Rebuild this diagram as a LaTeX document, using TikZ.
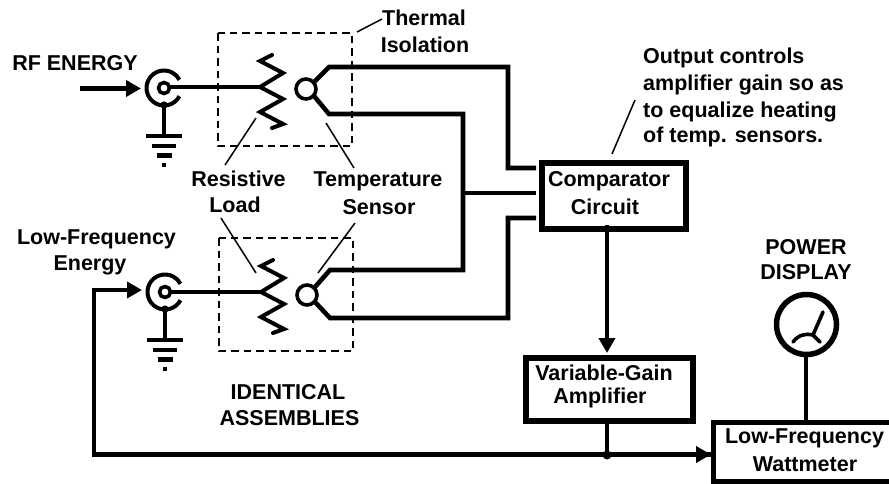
\documentclass[tikz,border=0pt]{standalone}
\usepackage{fontspec}
\setmainfont{Liberation Sans}
\usetikzlibrary{arrows.meta,calc}
\tikzset{
 wire/.style={line width=4.6pt,line join=miter},
 arrowwire/.style={wire,-{Triangle[length=15pt,width=16pt]}},
 res/.style={line width=4pt,line join=miter,line cap=round},
 thin leader/.style={line width=1.5pt},
 dashbox/.style={line width=2pt,dash pattern=on 7.5pt off 5pt},
 blockbox/.style={draw,line width=6pt,fill=white},
 lbl/.style={font=\bfseries\fontsize{21.5}{26}\selectfont,align=center,inner sep=0pt},
}
\newcommand{\coax}[2]{%
 \begin{scope}[shift={(#1,#2)}]
  \draw[line width=4pt] (28:17.5) arc[start angle=28,end angle=332,radius=17.5];
  \fill (0,17) circle[radius=3.6];
 \end{scope}}
\newcommand{\gnd}[2]{%
 \begin{scope}[shift={(#1,#2)}]
  \draw[wire] (0,17) -- (0,48);
  \draw[wire] (-18,48) -- (18,48);
  \draw[wire] (-12,58) -- (12,58);
  \draw[wire] (-7.5,67.5) -- (7.5,67.5);
  \fill (-2.2,75) rectangle (2.2,79);
 \end{scope}}
\newcommand{\zig}[2]{%
 \draw[res,shift={(#1,#2)}] (12,-32) -- (0,-26) -- (23,-14) -- (0,0) -- (23,12) -- (0,25) -- (23,37) -- (12,41);}
\begin{document}
\begin{tikzpicture}[x=1pt,y=-1pt]
\useasboundingbox (0,0) rectangle (889,483);
% dashed boxes
\draw[dashbox] (218,33) rectangle (352,146);
\draw[dashbox] (219,238) rectangle (353,351);
% coax
\coax{164}{88}\gnd{164}{88}
\coax{165}{292}\gnd{165}{292}
% resistors
\coordinate (rf) at (164,87);
\coordinate (rt) at (260,87);
\draw[wire] (rf) -- (rt);
\zig{260}{87}
\coordinate (lf) at (165,292);
\coordinate (lt) at (261,292);
\draw[wire] (lf) -- (lt);
\zig{261}{292}
\node[draw,circle,line width=3.6pt,fill=white,minimum size=11pt,inner sep=0pt] (p1) at (164,88) {};
\node[draw,circle,line width=3.6pt,fill=white,minimum size=11pt,inner sep=0pt] (p2) at (165,292) {};
% blocks
\node[blockbox,minimum width=144pt,minimum height=65.5pt,anchor=north west] (comp) at (538.5,160) {};
\node[blockbox,minimum width=167pt,minimum height=63pt,anchor=north west] (vga) at (522.5,354.5) {};
% sensors
\node[draw,circle,line width=3.6pt,minimum size=20pt,inner sep=0pt] (s1) at (306,89) {};
\node[draw,circle,line width=3.6pt,minimum size=20pt,inner sep=0pt] (s2) at (307,295) {};
% wires to comparator
\coordinate (c1) at (536,168);
\coordinate (c2) at (536,193);
\coordinate (c3) at (536,218);
\draw[wire] ($(s1)+(8,-7)$) -- (329,67) -- (508,67) -- (508,168) -- (c1);
\draw[wire] ($(s1)+(8,7)$) -- (329,114) -- (463,114) -- (463,270) -- (330,270) -- ($(s2)+(8,-8)$);
\draw[wire] (463,193) -- (c2);
\draw[wire] ($(s2)+(8,7)$) -- (330,318) -- (508,318) -- (508,218) -- (c3);
% wattmeter
\draw[line width=5.5pt] (895,422.5) -- (713.5,422.5) -- (713.5,481.5) -- (895,481.5);
\node[draw,circle,line width=5.5pt,minimum size=60pt,inner sep=0pt] (meter) at (806.5,324.5) {};
\coordinate (wm) at (806,421);
\draw[wire] (806,356) -- (wm);
\draw[line width=3.6pt,line cap=round] (813,335) -- (823,312);
\draw[line width=3.6pt,line cap=round] (793,342) .. controls (798,335) and (806,333) .. (813,335) -- (820,342);
% amplifier path
\coordinate (ca) at (607,225);
\coordinate (vt) at (607,353);
\draw[arrowwire] (ca) -- (vt);
\coordinate (junc) at (607,455);
\coordinate (vb) at (607,418);
\draw[wire] (vb) -- (junc);
\fill (junc) circle[radius=4.5];
\coordinate (win) at (711,454.5);
\coordinate (fb) at (142,290);
\draw[arrowwire] (win) -- (94,454.5) -- (94,290) -- (fb);
\draw[arrowwire] (junc) ++(0,-.5) -- (win);
\coordinate (rfs) at (80,88.5);
\coordinate (rfe) at (141,88.5);
\draw[arrowwire] (rfs) -- (rfe);
% leaders
\draw[thin leader] (357,32) -- (382,19);
\draw[thin leader] (256,118) -- (225,165);
\draw[thin leader] (326,123) -- (354,168);
\draw[thin leader] (221,218) -- (256,273);
\draw[thin leader] (355,223) -- (318,273);
\draw[thin leader] (612,154) -- (635,100);
% text
\node[lbl] (t1) at (75,63.5) {RF ENERGY};
\node[lbl] (t2) at (424,18) {Thermal};
\node[lbl] (t3) at (425,45) {Isolation};
\node[lbl] (t4) at (238.5,179) {Resistive};
\node[lbl] (t5) at (235,205) {Load};
\node[lbl] (t6) at (378,181) {Temperature};
\node[lbl] (t7) at (379,207) {Sensor};
\node[lbl] (t8) at (96.5,239.5) {Low-Frequency};
\node[lbl] (t9) at (90,265) {Energy};
\node[lbl] (t10) at (288,392) {IDENTICAL};
\node[lbl] (t11) at (289.5,418) {ASSEMBLIES};
\node[lbl,anchor=west] (t12) at (643,58) {Output controls};
\node[lbl,anchor=west] (t13) at (643,85) {amplifier gain so as};
\node[lbl,anchor=west] (t14) at (643,112) {to equalize heating};
\node[lbl,anchor=west] (t15) at (643,137) {of temp. sensors.};
\node[lbl] (t16) at (609,181) {Comparator};
\node[lbl] (t17) at (605,207) {Circuit};
\node[lbl] (t18) at (604,372.5) {Variable-Gain};
\node[lbl] (t19) at (600,398) {Amplifier};
\node[lbl] (t20) at (806,247) {POWER};
\node[lbl] (t21) at (806,272) {DISPLAY};
\node[lbl] (t22) at (804.5,438.5) {Low-Frequency};
\node[lbl] (t23) at (805,464) {Wattmeter};
\end{tikzpicture}
\end{document}
